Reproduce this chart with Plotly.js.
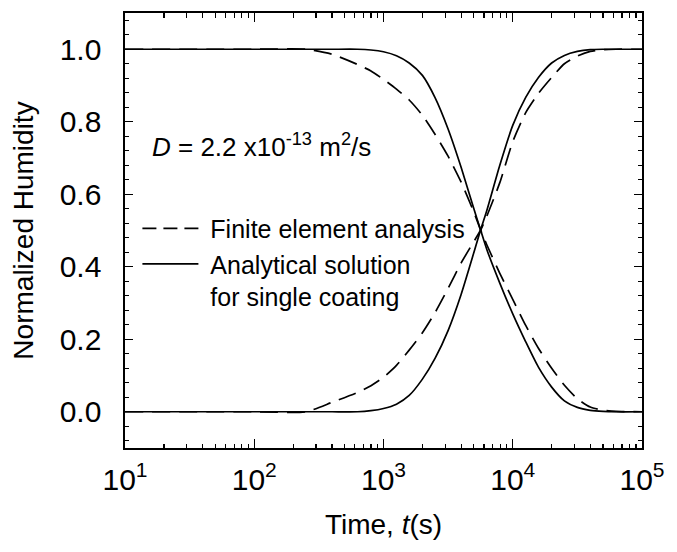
<!DOCTYPE html>
<html>
<head>
<meta charset="utf-8">
<script src="https://cdn.plot.ly/plotly-3.0.1.min.js"></script>
<style>html,body{margin:0;padding:0;background:#fff;}#chart{width:677px;height:552px;}</style>
</head>
<body>
<div id="chart"></div>
<script>
// Time (s)
var time = [10, 100, 250, 400, 630, 800, 1000, 1260, 1580, 2000, 2510, 3160, 3980, 5010, 5620, 6310, 7940, 10000, 12600, 15800, 20000, 25100, 31600, 39800, 50100, 63100, 100000];

// Finite element analysis (dashed)
var feaDown = [1.0, 1.0, 1.0, 0.986, 0.958, 0.94, 0.917, 0.89, 0.86, 0.818, 0.765, 0.705, 0.634, 0.55, 0.503, 0.46, 0.382, 0.31, 0.238, 0.175, 0.12, 0.073, 0.036, 0.013, 0.004, 0.001, 0.0];
var feaUp   = [0.0, 0.0, 0.0, 0.026, 0.053, 0.072, 0.095, 0.128, 0.17, 0.218, 0.274, 0.34, 0.41, 0.47, 0.5, 0.54, 0.632, 0.745, 0.825, 0.878, 0.922, 0.96, 0.981, 0.994, 0.999, 1.0, 1.0];

// Analytical solution for single coating (solid)
var anaDown = [1.0, 1.0, 1.0, 1.0, 1.0, 0.998, 0.993, 0.982, 0.962, 0.928, 0.866, 0.78, 0.675, 0.559, 0.503, 0.447, 0.355, 0.27, 0.193, 0.123, 0.068, 0.03, 0.012, 0.004, 0.001, 0.0, 0.0];
var anaUp   = [0.0, 0.0, 0.0, 0.0, 0.0, 0.003, 0.009, 0.021, 0.045, 0.09, 0.148, 0.224, 0.323, 0.44, 0.5, 0.556, 0.68, 0.79, 0.867, 0.922, 0.962, 0.983, 0.994, 0.999, 1.0, 1.0, 1.0];

var xTickVals = [10, 100, 1000, 10000, 100000];
var xTickText = ['10<sup>1</sup>', '10<sup>2</sup>', '10<sup>3</sup>', '10<sup>4</sup>', '10<sup>5</sup>'];
var yTickVals = [0, 0.2, 0.4, 0.6, 0.8, 1.0];
var yTickText = ['0.0', '0.2', '0.4', '0.6', '0.8', '1.0'];

var legendNames = ['&nbsp;Finite element analysis', '&nbsp;Analytical solution<br>&nbsp;for single coating'];

var FONT = 'Liberation Sans, Arial, Helvetica, sans-serif';
var dashLine = {color: '#000', width: 1.7, dash: '18px,9px', shape: 'spline', smoothing: 0.6};
var legendDash = {color: '#000', width: 1.7, dash: '14px,7px'};
var solidLine = {color: '#000', width: 1.7, shape: 'spline', smoothing: 0.6};

var traces = [
  // legend entries
  {x: [null], y: [null], mode: 'lines', line: legendDash, name: legendNames[0], showlegend: true, hoverinfo: 'skip'},
  {x: [null], y: [null], mode: 'lines', line: {color: '#000', width: 1.7}, name: legendNames[1], showlegend: true, hoverinfo: 'skip'},
  // data curves
  {x: time, y: feaDown, mode: 'lines', line: dashLine, name: legendNames[0], showlegend: false},
  {x: time, y: anaDown, mode: 'lines', line: solidLine, name: legendNames[1], showlegend: false},
  {x: time, y: feaUp, mode: 'lines', line: dashLine, name: legendNames[0], showlegend: false},
  {x: time, y: anaUp, mode: 'lines', line: solidLine, name: legendNames[1], showlegend: false}
];

var layout = {
  width: 677, height: 552,
  margin: {l: 125, r: 35, t: 13, b: 104, pad: 0},
  paper_bgcolor: '#fff', plot_bgcolor: '#fff',
  font: {family: FONT, color: '#000', size: 25},
  showlegend: true,
  legend: {x: 0.024, y: 0.557, xanchor: 'left', yanchor: 'top', bgcolor: 'rgba(0,0,0,0)',
           font: {family: FONT, size: 25, color: '#000'}, itemwidth: 56, valign: 'top', tracegroupgap: 0},
  xaxis: {
    type: 'log', range: [1, 5],
    tickmode: 'array', tickvals: xTickVals, ticktext: xTickText,
    ticks: 'inside', ticklen: 9, tickwidth: 1.3, tickcolor: '#000',
    minor: {ticks: 'inside', ticklen: 4.5, tickwidth: 1.2, tickcolor: '#000', dtick: 'D1', showgrid: false},
    showline: true, linecolor: '#000', linewidth: 1.6, mirror: 'ticks',
    showgrid: false, zeroline: false,
    ticklabelstandoff: 4,
    tickfont: {family: FONT, size: 30, color: '#000'},
    title: {text: 'Time, <i>t</i>(s)', font: {family: FONT, size: 28, color: '#000'}, standoff: 20}
  },
  yaxis: {
    range: [-0.1, 1.1],
    tickmode: 'array', tickvals: yTickVals, ticktext: yTickText,
    ticks: 'inside', ticklen: 8, tickwidth: 1.3, tickcolor: '#000',
    minor: {ticks: 'inside', ticklen: 4, tickwidth: 1.2, tickcolor: '#000', dtick: 0.04, tick0: 0, showgrid: false},
    showline: true, linecolor: '#000', linewidth: 1.6, mirror: 'ticks',
    showgrid: false, zeroline: false,
    ticklabelstandoff: 16,
    tickfont: {family: FONT, size: 30, color: '#000'},
    title: {text: 'Normalized Humidity', font: {family: FONT, size: 28, color: '#000'}, standoff: 18}
  },
  annotations: [{
    xref: 'paper', yref: 'y', x: 0.049, y: 0.735, xanchor: 'left', yanchor: 'middle',
    text: '<i>D</i> = 2.2 x10<sup>-13</sup> m<sup>2</sup>/s', showarrow: false,
    font: {family: FONT, size: 26, color: '#000'}
  }]
};

Plotly.newPlot('chart', traces, layout, {staticPlot: true, displayModeBar: false});
</script>
</body>
</html>
